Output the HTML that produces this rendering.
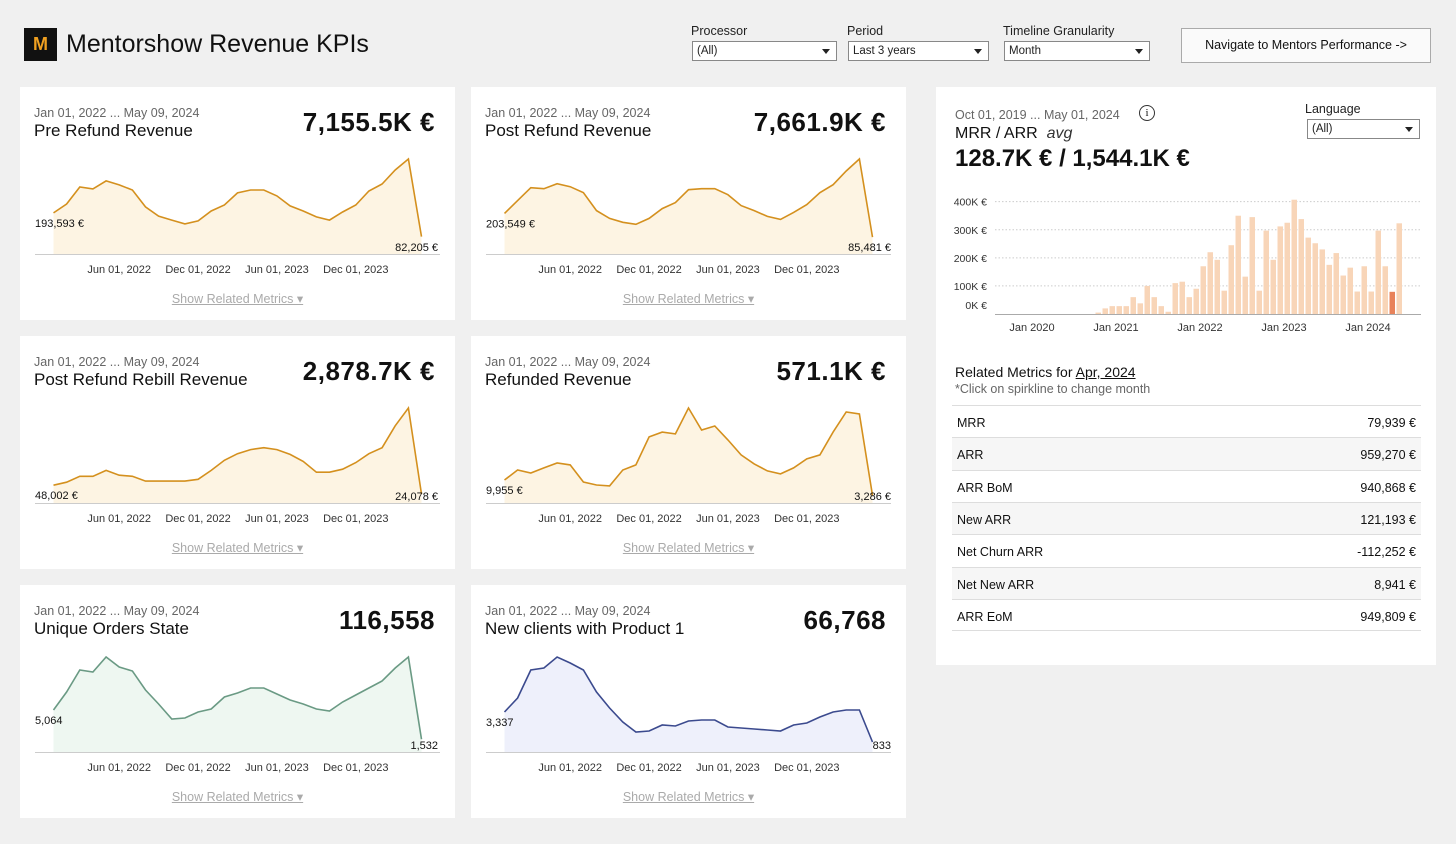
<!DOCTYPE html>
<html><head><meta charset="utf-8"><style>
*{box-sizing:border-box;margin:0;padding:0}
body{width:1456px;height:844px;background:#f0f0f0;font-family:"Liberation Sans",sans-serif;position:relative;overflow:hidden;color:#111}
.abs{position:absolute}
.card{position:absolute;background:#fff;width:435px;height:233px}
.date{position:absolute;left:14px;top:19px;font-size:12.5px;color:#666}
.title{position:absolute;left:14px;top:34px;font-size:17px;color:#111}
.val{position:absolute;right:20px;top:20px;font-size:26px;font-weight:bold;letter-spacing:0.5px}
.srm{position:absolute;left:0;width:100%;top:204px;text-align:center;font-size:12.5px;color:#aaa;text-decoration:underline}
.dd-label{position:absolute;font-size:12.5px;color:#222}
.dd{position:absolute;height:20px;border:1px solid #888;background:#fff;font-size:11.5px;padding:3px 4px;color:#222}
.dd:after{content:"";position:absolute;right:6px;top:7px;border:4px solid transparent;border-top:5px solid #222}
.row{position:absolute;left:952px;width:469px;height:32.3px;border-top:1px solid #ddd;font-size:12.5px;padding:10px 5px}
.row span{position:absolute;right:5px;top:10px}
</style></head><body>
<div class="abs" style="left:24px;top:28px;width:33px;height:33px;background:#111;color:#f0a020;font-weight:bold;font-size:18px;text-align:center;line-height:33px">M</div>
<div class="abs" style="left:66px;top:30px;font-size:25px;color:#111">Mentorshow Revenue KPIs</div>
<div class="dd-label" style="left:691px;top:24px">Processor</div>
<div class="dd" style="left:692px;top:41px;width:145px">(All)</div>
<div class="dd-label" style="left:847px;top:24px">Period</div>
<div class="dd" style="left:848px;top:41px;width:141px">Last 3 years</div>
<div class="dd-label" style="left:1003px;top:24px">Timeline Granularity</div>
<div class="dd" style="left:1004px;top:41px;width:146px">Month</div>
<div class="abs" style="left:1181px;top:28px;width:250px;height:35px;border:1px solid #aaa;background:#fafafa;font-size:12.5px;text-align:center;line-height:33px">Navigate to Mentors Performance -&gt;</div>

<div id="cards"></div>

<div class="abs" style="left:936px;top:87px;width:500px;height:578px;background:#fff"></div>
<div class="abs" style="left:955px;top:108px;font-size:12.5px;color:#666">Oct 01, 2019 ... May 01, 2024</div>
<div class="abs" style="left:1139px;top:105px;width:16px;height:16px;border:1.3px solid #333;border-radius:50%;font-size:11px;text-align:center;line-height:14px;font-family:'Liberation Serif',serif">i</div>
<div class="abs" style="left:955px;top:125px;font-size:16px">MRR / ARR &nbsp;<i style="color:#333">avg</i></div>
<div class="abs" style="left:955px;top:145px;font-size:24px;font-weight:bold">128.7K € / 1,544.1K €</div>
<div class="dd-label" style="left:1305px;top:102px">Language</div>
<div class="dd" style="left:1307px;top:119px;width:113px">(All)</div>
<svg id="bars" class="abs" style="left:0;top:0" width="1456" height="344"></svg>
<div class="abs" style="left:955px;top:364px;font-size:14px">Related Metrics for <u>Apr, 2024</u></div>
<div class="abs" style="left:955px;top:382px;font-size:12.5px;color:#666">*Click on spirkline to change month</div>
<div id="tbl"></div>

<script>
// sparkline data (29 monthly points Jan 2022 .. May 2024)
const sparkTicks = ["Jun 01, 2022","Dec 01, 2022","Jun 01, 2023","Dec 01, 2023"];
const sparkTickIdx = [5,11,17,23];
const preRefund = [194,236,316,307,345,326,302,222,179,160,142,156,203,231,288,302,302,274,227,203,175,160,198,231,297,330,396,448,82];
const postRefund = [204,268,333,328,353,338,308,218,179,159,149,179,228,258,323,328,328,298,243,218,189,174,209,248,308,348,417,477,85];
const rebill = [48,56,72,72,88,75,72,59,59,59,59,64,88,115,133,144,149,144,131,112,83,83,91,109,133,149,208,256,24];
const refunded = [9.96,14.3,13,15.2,17.3,16.5,9.1,7.8,7.4,14.3,16.5,28.6,30.7,29.9,41.1,31.6,33.3,27.3,20.8,16.9,13.9,12.6,15.2,19.1,20.8,30.7,39.4,38.5,3.29];
const uniqueOrders = [5064,7236,9889,9648,11457,10251,9769,7477,5789,3980,4100,4824,5186,6633,7115,7718,7718,6995,6271,5789,5186,4945,6030,6874,7718,8563,10130,11457,1532];
const newClients = [3337,4504,6839,7006,7923,7423,6839,5004,3670,2502,1668,1751,2252,2169,2585,2669,2669,2085,2002,1918,1835,1751,2252,2419,2919,3337,3503,3503,833];
const labelsFirst = ["193,593 €","203,549 €","48,002 €","9,955 €","5,064","3,337"];
const labelsLast = ["82,205 €","85,481 €","24,078 €","3,286 €","1,532","833"];
const cardTitles = ["Pre Refund Revenue","Post Refund Revenue","Post Refund Rebill Revenue","Refunded Revenue","Unique Orders State","New clients with Product 1"];
const cardValues = ["7,155.5K €","7,661.9K €","2,878.7K €","571.1K €","116,558","66,768"];
const series = [preRefund,postRefund,rebill,refunded,uniqueOrders,newClients];
const lineColors = ["#d4901e","#d4901e","#d4901e","#d4901e","#6a9a84","#3b4a8e"];
const fillColors = ["#fdf4e3","#fdf4e3","#fdf4e3","#fdf4e3","#eef7f1","#eef0fb"];
const pos = [[20,87],[471,87],[20,336],[471,336],[20,585],[471,585]];
const NS="http://www.w3.org/2000/svg";
const cards=document.getElementById('cards');
series.forEach((d,k)=>{
  const c=document.createElement('div');
  c.className='card';c.style.left=pos[k][0]+'px';c.style.top=pos[k][1]+'px';
  
  
  c.innerHTML='<div class="date">Jan 01, 2022 ... May 09, 2024</div><div class="title">'+cardTitles[k]+'</div><div class="val">'+cardValues[k]+'</div><div class="srm">Show Related Metrics ▾</div>';
  c.querySelector('.srm');
  c.querySelector('.srm');
  const s=document.createElementNS(NS,'svg');
  s.setAttribute('width','435');s.setAttribute('height','200');
  s.style.position='absolute';s.style.left='0';s.style.top='0';
  
  
  const mx=Math.max(...d)/0.896;
  const x=i=>33.5+i*(368/(d.length-1));
  const y=v=>167-v/mx*106;
  let pts=d.map((v,i)=>x(i).toFixed(1)+','+y(v).toFixed(1)).join(' ');
  let h='<polygon points="'+x(0)+',167 '+pts+' '+x(d.length-1)+',167" fill="'+fillColors[k]+'"/>';
  h+='<line x1="15" x2="420" y1="167.5" y2="167.5" stroke="#ccc"/>';
  h+='<polyline points="'+pts+'" fill="none" stroke="'+lineColors[k]+'" stroke-width="1.6"/>';
  sparkTicks.forEach((t,j)=>{h+='<text x="'+x(sparkTickIdx[j])+'" y="186" font-size="11" text-anchor="middle" fill="#333">'+t+'</text>';});
  h+='<text x="15" y="'+(y(d[0])+14)+'" font-size="11" fill="#111">'+labelsFirst[k]+'</text>';
  h+='<text x="'+(k%2?420:418)+'" y="164" font-size="11" text-anchor="end" fill="#111">'+labelsLast[k]+'</text>';
  s.innerHTML=h;
  c.appendChild(s);
  cards.appendChild(c);
});

// MRR bar chart data (Oct 2020 .. May 2024), K€
const barStartIndex = 12; // months after Oct 2019
const mrrValues = [5,20,28,28,28,60,38,100,60,28,8,110,115,60,90,170,220,193,83,245,350,133,345,83,297,193,312,325,407,338,272,252,230,175,217,137,165,80,170,80,297,170,79,323];
const highlightIdx = 42;
const yTicks = [0,100,200,300,400];
const yTickLabels = ["0K €","100K €","200K €","300K €","400K €"];
const xTickLabels = ["Jan 2020","Jan 2021","Jan 2022","Jan 2023","Jan 2024"];
const xTickIdx = [3,15,27,39,51];
const bs=document.getElementById('bars');
const bx=i=>1011+7*i;
const by=v=>314-v*0.2808;
let bh='';
yTicks.forEach((t,j)=>{
  if(t>0) bh+='<line x1="995" x2="1421" y1="'+by(t)+'" y2="'+by(t)+'" stroke="#ccc" stroke-dasharray="1.5,2"/>';
  bh+='<text x="987" y="'+(t===0?309:by(t)+4)+'" font-size="10.5" text-anchor="end" fill="#333">'+yTickLabels[j]+'</text>';
});
bs.innerHTML=bh;
mrrValues.forEach((v,i)=>{
  const r=document.createElementNS(NS,'rect');
  r.setAttribute('x',bx(barStartIndex+i)+0.5);r.setAttribute('width','5.5');
  r.setAttribute('y',by(v));r.setAttribute('height',314-by(v));
  r.setAttribute('fill',i===highlightIdx?'#e8825a':'#f8d5b8');
  
  
  bs.appendChild(r);
});
bs.insertAdjacentHTML('beforeend','<line x1="995" x2="1421" y1="314.5" y2="314.5" stroke="#aaa"/>');
xTickLabels.forEach((t,j)=>{bs.insertAdjacentHTML('beforeend','<text x="'+bx(xTickIdx[j])+'" y="331" font-size="11" text-anchor="middle" fill="#333">'+t+'</text>');});

// related metrics table
const metricNames = ["MRR","ARR","ARR BoM","New ARR","Net Churn ARR","Net New ARR","ARR EoM"];
const metricValues = ["79,939 €","959,270 €","940,868 €","121,193 €","-112,252 €","8,941 €","949,809 €"];
const tbl=document.getElementById('tbl');
metricNames.forEach((n,i)=>{
  const r=document.createElement('div');
  r.className='row';r.style.top=(405+i*32.3)+'px';
  r.style.background=i%2?'#f6f6f6':'#fff';
  if(i===metricNames.length-1) r.style.borderBottom='1px solid #ddd';
  
  
  r.innerHTML=n+'<span>'+metricValues[i]+'</span>';
  tbl.appendChild(r);
});
</script>
</body></html>
